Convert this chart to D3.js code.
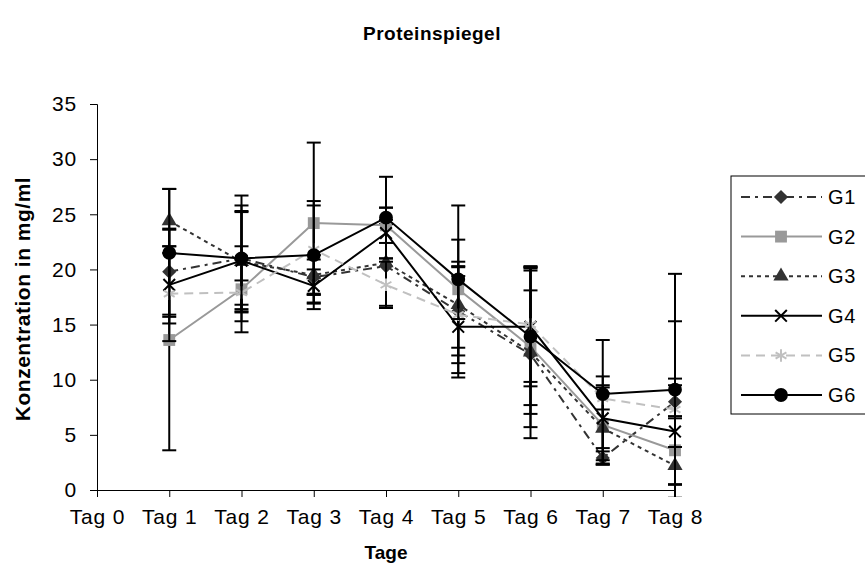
<!DOCTYPE html>
<html>
<head>
<meta charset="utf-8">
<script src="https://cdn.jsdelivr.net/npm/d3@7"></script>
<style>
  body { margin: 0; background: #fff; }
  text { font-family: "Liberation Sans", Arial, sans-serif; }
</style>
</head>
<body>
<svg id="chart" width="865" height="583"></svg>
<script>
// categories and values
var days = ["Tag 0", "Tag 1", "Tag 2", "Tag 3", "Tag 4", "Tag 5", "Tag 6", "Tag 7", "Tag 8"];
var dataDays = ["Tag 1", "Tag 2", "Tag 3", "Tag 4", "Tag 5", "Tag 6", "Tag 7", "Tag 8"];
var yTicks = [0, 5, 10, 15, 20, 25, 30, 35];

var g1 = [19.8, 21.0, 19.3, 20.3, 16.2, 12.3, 2.9, 8.0];
var g2 = [13.6, 18.2, 24.2, 24.0, 18.2, 13.0, 5.9, 3.6];
var g3 = [24.4, 20.7, 19.5, 20.6, 16.8, 12.5, 5.6, 2.2];
var g4 = [18.6, 20.8, 18.5, 23.3, 14.8, 14.8, 6.5, 5.3];
var g5 = [17.8, 17.9, 21.8, 18.6, 15.9, 15.0, 8.3, 7.3];
var g6 = [21.5, 21.0, 21.3, 24.7, 19.1, 13.9, 8.7, 9.1];

var g1Err = [3.9, 4.8, 1.6, 3.8, 4.0, 7.6, 0.6, 1.5];
var g2Err = [10.0, 3.9, 7.3, 1.6, 7.6, 7.3, 3.6, 3.1];
var g3Err = [2.9, 4.6, 1.8, 3.9, 3.9, 5.6, 3.2, 1.7];
var g4Err = [3.5, 4.4, 1.5, 2.3, 4.6, 5.4, 3.8, 4.8];
var g5Err = [4.3, 1.1, 4.0, 2.1, 4.4, 5.2, 1.0, 8.0];
var g6Err = [5.8, 5.7, 4.9, 3.7, 3.6, 6.2, 4.9, 10.5];

var names = ["G1", "G2", "G3", "G4", "G5", "G6"];
var means = [g1, g2, g3, g4, g5, g6];
var errs = [g1Err, g2Err, g3Err, g4Err, g5Err, g6Err];

var colors = ["#333333", "#999999", "#333333", "#000000", "#c0c0c0", "#000000"];
var dashes = ["9,5,3,5", null, "4,4", null, "9,6", null];
// G1 uses a square turned by 45 degrees as its diamond
var symbols = [d3.symbolSquare, d3.symbolSquare, d3.symbolTriangle, d3.symbolTimes, d3.symbolAsterisk, d3.symbolCircle];
var symRot = [45, 0, 0, 0, 0, 0];
var symSize = [100, 140, 100, 90, 110, 150];
var filled = [true, true, true, false, false, true];

var svg = d3.select("#chart");

var x = d3.scalePoint().domain(days).range([97, 675]);
var y = d3.scaleLinear().domain([0, 35]).range([490, 104]);

// error bars are cut at the plot area edge
svg.append("clipPath").attr("id", "plotclip")
  .append("rect").attr("x", 80).attr("y", 95).attr("width", 620).attr("height", 402);

// axes
svg.append("g")
  .attr("transform", "translate(97,0)")
  .call(d3.axisLeft(y).tickValues(yTicks).tickSizeOuter(0).tickSize(7).tickPadding(13));
svg.append("g")
  .attr("transform", "translate(0,490)")
  .call(d3.axisBottom(x).tickSizeOuter(0).tickSize(7).tickPadding(12));
svg.selectAll(".domain").attr("stroke", "#000").attr("stroke-width", 1);
svg.selectAll(".tick line").attr("stroke", "#000");
svg.selectAll(".tick text")
  .attr("fill", "#000")
  .style("font-size", "21px")
  .style("letter-spacing", "0.8px")
  .style("font-family", "'Liberation Sans', Arial, sans-serif");

// series
var line = d3.line()
  .x(function(d, i) { return x(dataDays[i]); })
  .y(function(d) { return y(d); });

names.forEach(function(name, s) {
  var g = svg.append("g").attr("class", "series");
  g.append("path")
    .datum(means[s])
    .attr("d", line)
    .attr("fill", "none")
    .attr("stroke", colors[s])
    .attr("stroke-width", 2)
    .attr("stroke-dasharray", dashes[s]);

  var eb = g.selectAll(".err")
    .data(means[s])
    .enter()
    .append("g")
    .attr("clip-path", "url(#plotclip)");
  eb.append("line")
    .attr("x1", function(d, i) { return x(dataDays[i]); })
    .attr("x2", function(d, i) { return x(dataDays[i]); })
    .attr("y1", function(d, i) { return y(d + errs[s][i]); })
    .attr("y2", function(d, i) { return y(d - errs[s][i]); })
    .attr("stroke", "#000")
    .attr("stroke-width", 2);
  [1, -1].forEach(function(sign) {
    eb.append("line")
      .attr("x1", function(d, i) { return x(dataDays[i]) - 7; })
      .attr("x2", function(d, i) { return x(dataDays[i]) + 7; })
      .attr("y1", function(d, i) { return y(d + sign * errs[s][i]); })
      .attr("y2", function(d, i) { return y(d + sign * errs[s][i]); })
      .attr("stroke", "#000")
      .attr("stroke-width", 2);
  });

  g.selectAll(".pt")
    .data(means[s])
    .enter()
    .append("path")
    .attr("d", d3.symbol().type(symbols[s]).size(symSize[s]))
    .attr("transform", function(d, i) {
      return "translate(" + x(dataDays[i]) + "," + y(d) + ") rotate(" + symRot[s] + ")";
    })
    .attr("fill", filled[s] ? colors[s] : "none")
    .attr("stroke", colors[s])
    .attr("stroke-width", filled[s] ? 0 : 2);
});

// legend
var legend = svg.append("g").attr("transform", "translate(731,176)");
legend.append("rect")
  .attr("x", 0).attr("y", 0)
  .attr("width", 140).attr("height", 238)
  .attr("fill", "#fff")
  .attr("stroke", "#000")
  .attr("stroke-width", 1);
names.forEach(function(name, s) {
  var ly = 21 + s * 39.6;
  legend.append("line")
    .attr("x1", 10).attr("x2", 91)
    .attr("y1", ly).attr("y2", ly)
    .attr("stroke", colors[s])
    .attr("stroke-width", 2)
    .attr("stroke-dasharray", dashes[s]);
  legend.append("path")
    .attr("d", d3.symbol().type(symbols[s]).size(symSize[s]))
    .attr("transform", "translate(50," + ly + ") rotate(" + symRot[s] + ")")
    .attr("fill", filled[s] ? colors[s] : "none")
    .attr("stroke", colors[s])
    .attr("stroke-width", filled[s] ? 0 : 2);
  legend.append("text")
    .attr("x", 97).attr("y", ly + 7)
    .style("font-size", "20px")
    .style("letter-spacing", "0.8px")
    .text(name);
});

// titles
svg.append("text")
  .attr("x", 432).attr("y", 40)
  .attr("text-anchor", "middle")
  .style("font-size", "19px").style("font-weight", "bold")
  .style("letter-spacing", "0.5px")
  .text("Proteinspiegel");
svg.append("text")
  .attr("transform", "translate(30,299) rotate(-90)")
  .attr("text-anchor", "middle")
  .style("font-size", "21px").style("font-weight", "bold")
  .style("letter-spacing", "0.5px")
  .text("Konzentration in mg/ml");
svg.append("text")
  .attr("x", 386).attr("y", 559)
  .attr("text-anchor", "middle")
  .style("font-size", "19px").style("font-weight", "bold")
  .text("Tage");
</script>
</body>
</html>
